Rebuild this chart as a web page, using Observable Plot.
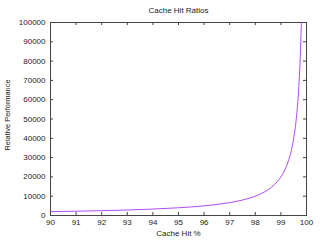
<!DOCTYPE html>
<html><head><meta charset="utf-8">
<script src="https://cdn.jsdelivr.net/npm/d3@7"></script>
<script src="https://cdn.jsdelivr.net/npm/@observablehq/plot@0.6"></script>
<style>
html,body{margin:0;padding:0;background:#fff;}
svg{display:block;}
</style>
</head><body>
<div id="chart"></div>
<script>
const title = "Cache Hit Ratios";
const xLabel = "Cache Hit %";
const yLabel = "Relative Performance";
const hitPct = [90, 91, 92, 93, 94, 95, 96, 96.5, 97, 97.5, 98, 98.25, 98.5, 98.75, 99, 99.1, 99.2, 99.3, 99.4, 99.5, 99.6, 99.7, 99.75, 99.8];
const perf = [2000, 2222, 2500, 2857, 3333, 4000, 5000, 5714, 6667, 8000, 10000, 11429, 13333, 16000, 20000, 22222, 25000, 28571, 33333, 40000, 50000, 66667, 80000, 100000];
const xTicks = [90, 91, 92, 93, 94, 95, 96, 97, 98, 99, 100];
const yTicks = [0, 10000, 20000, 30000, 40000, 50000, 60000, 70000, 80000, 90000, 100000];

const data = hitPct.map((h, i) => ({h, v: perf[i]}));
const W = 320, H = 240, mL = 50, mR = 14, mT = 22, mB = 25;
const fw = W - mL - mR, fh = H - mT - mB;
const ink = "#444";
const txt = "#222";

const chart = Plot.plot({
  width: W, height: H,
  marginLeft: mL, marginRight: mR, marginTop: mT, marginBottom: mB,
  style: {fontFamily: "'Liberation Sans', Arial, sans-serif", fontSize: "8px", color: txt, background: "#fff"},
  x: {domain: [90, 100]},
  y: {domain: [0, 100000]},
  marks: [
    Plot.axisX(xTicks, {tickSize: 0, tickPadding: 4, label: null, fill: txt}),
    Plot.axisY(yTicks, {tickSize: 0, tickPadding: 5, label: null, tickFormat: d3.format("d"), fill: txt}),
    Plot.tickX(xTicks, {x: d => d, insetTop: fh - 3, stroke: ink}),
    Plot.tickX(xTicks, {x: d => d, insetBottom: fh - 3, stroke: ink}),
    Plot.tickY(yTicks, {y: d => d, insetRight: fw - 3, stroke: ink}),
    Plot.tickY(yTicks, {y: d => d, insetLeft: fw - 3, stroke: ink}),
    Plot.frame({stroke: ink}),
    Plot.line(data, {x: "h", y: "v", stroke: "#a838f0", strokeWidth: 0.9, curve: "monotone-x"}),
    Plot.text([title], {frameAnchor: "top", dy: -12, lineAnchor: "middle", textAnchor: "middle", fill: txt, fontSize: 8}),
    Plot.text([xLabel], {frameAnchor: "bottom", dy: 18, lineAnchor: "middle", textAnchor: "middle", fill: txt, fontSize: 8}),
    Plot.text([yLabel], {frameAnchor: "left", dx: -43, dy: -4, rotate: -90, lineAnchor: "middle", textAnchor: "middle", fill: txt, fontSize: 7.4})
  ]
});
document.getElementById("chart").appendChild(chart);
</script>
</body></html>
